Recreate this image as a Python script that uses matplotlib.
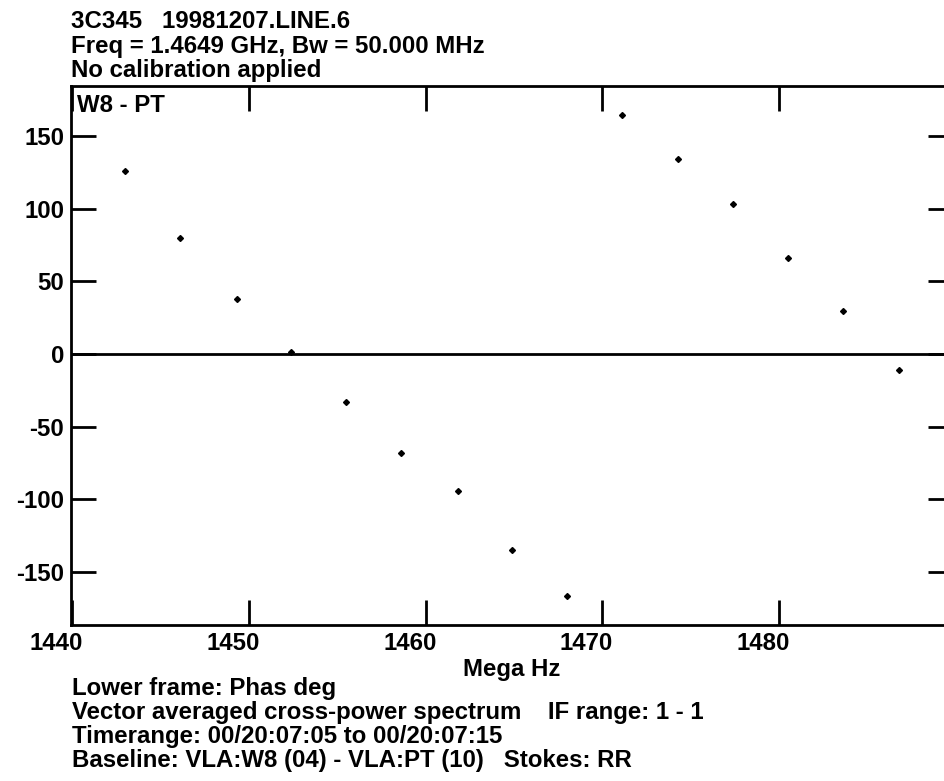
import numpy as np
import matplotlib
matplotlib.use("Agg")
import matplotlib.pyplot as plt
from matplotlib.transforms import ScaledTranslation

# channel frequencies (MHz) and phases (deg)
freq_mhz = [1443.0, 1446.1, 1449.3, 1452.4, 1455.5, 1458.6, 1461.8, 1464.9,
            1468.0, 1471.1, 1474.3, 1477.4, 1480.5, 1483.6, 1486.8]
phase_deg = [126.3, 80.0, 37.8, 1.2, -33.2, -68.1, -94.4, -134.6,
             -166.7, 164.4, 134.1, 103.6, 66.5, 30.0, -11.0]

x_ticks = [1440, 1450, 1460, 1470, 1480]
y_ticks = [-150, -100, -50, 0, 50, 100, 150]

header = ["3C345   19981207.LINE.6",
          "Freq = 1.4649 GHz, Bw = 50.000 MHz",
          "No calibration applied"]
footer = ["Lower frame: Phas deg",
          "Vector averaged cross-power spectrum    IF range: 1 - 1",
          "Timerange: 00/20:07:05 to 00/20:07:15",
          "Baseline: VLA:W8 (04) - VLA:PT (10)   Stokes: RR"]

plt.rcParams["font.family"] = ["Liberation Sans", "DejaVu Sans"]
plt.rcParams["font.weight"] = "bold"
plt.rcParams["axes.unicode_minus"] = False
fs = 17.3

W, H = 945, 781
fig = plt.figure(figsize=(W / 100, H / 100), dpi=100)
# axes box in pixels: left 71, top 86, bottom 625, right beyond the image
ax = fig.add_axes([71 / W, (H - 625) / H, (953 - 71) / W, (625 - 86) / H])

ax.plot(freq_mhz, phase_deg, linestyle="none", marker="D", markersize=3,
        color="black")
ax.axhline(0, color="black", linewidth=2)

ax.set_xlim(1439.92, 1489.85)
ax.set_ylim(-186.5, 184.6)
ax.set_xticks(x_ticks)
ax.set_yticks(y_ticks)
ax.tick_params(direction="in", length=18, width=2, labelsize=fs,
               top=True, right=True, pad=5)
for lab in ax.get_xticklabels():
    lab.set_transform(lab.get_transform()
                      + ScaledTranslation(-16 / 100, 0, fig.dpi_scale_trans))
for sp in ax.spines.values():
    sp.set_linewidth(2)

ax.set_xlabel("Mega Hz", fontsize=fs, fontweight="bold", labelpad=2)
ax.text(0.007, 0.985, "W8 - PT", transform=ax.transAxes, fontsize=fs,
        fontweight="bold", va="top", ha="left")

for i, line in enumerate(header):
    fig.text(71 / W, 1 - (28 + 24.5 * i) / H, line, fontsize=fs,
             fontweight="bold", va="baseline", ha="left")
for i, line in enumerate(footer):
    fig.text(72 / W, 1 - (695 + 24 * i) / H, line, fontsize=fs,
             fontweight="bold", va="baseline", ha="left")

fig.savefig("out.png", dpi=100)
